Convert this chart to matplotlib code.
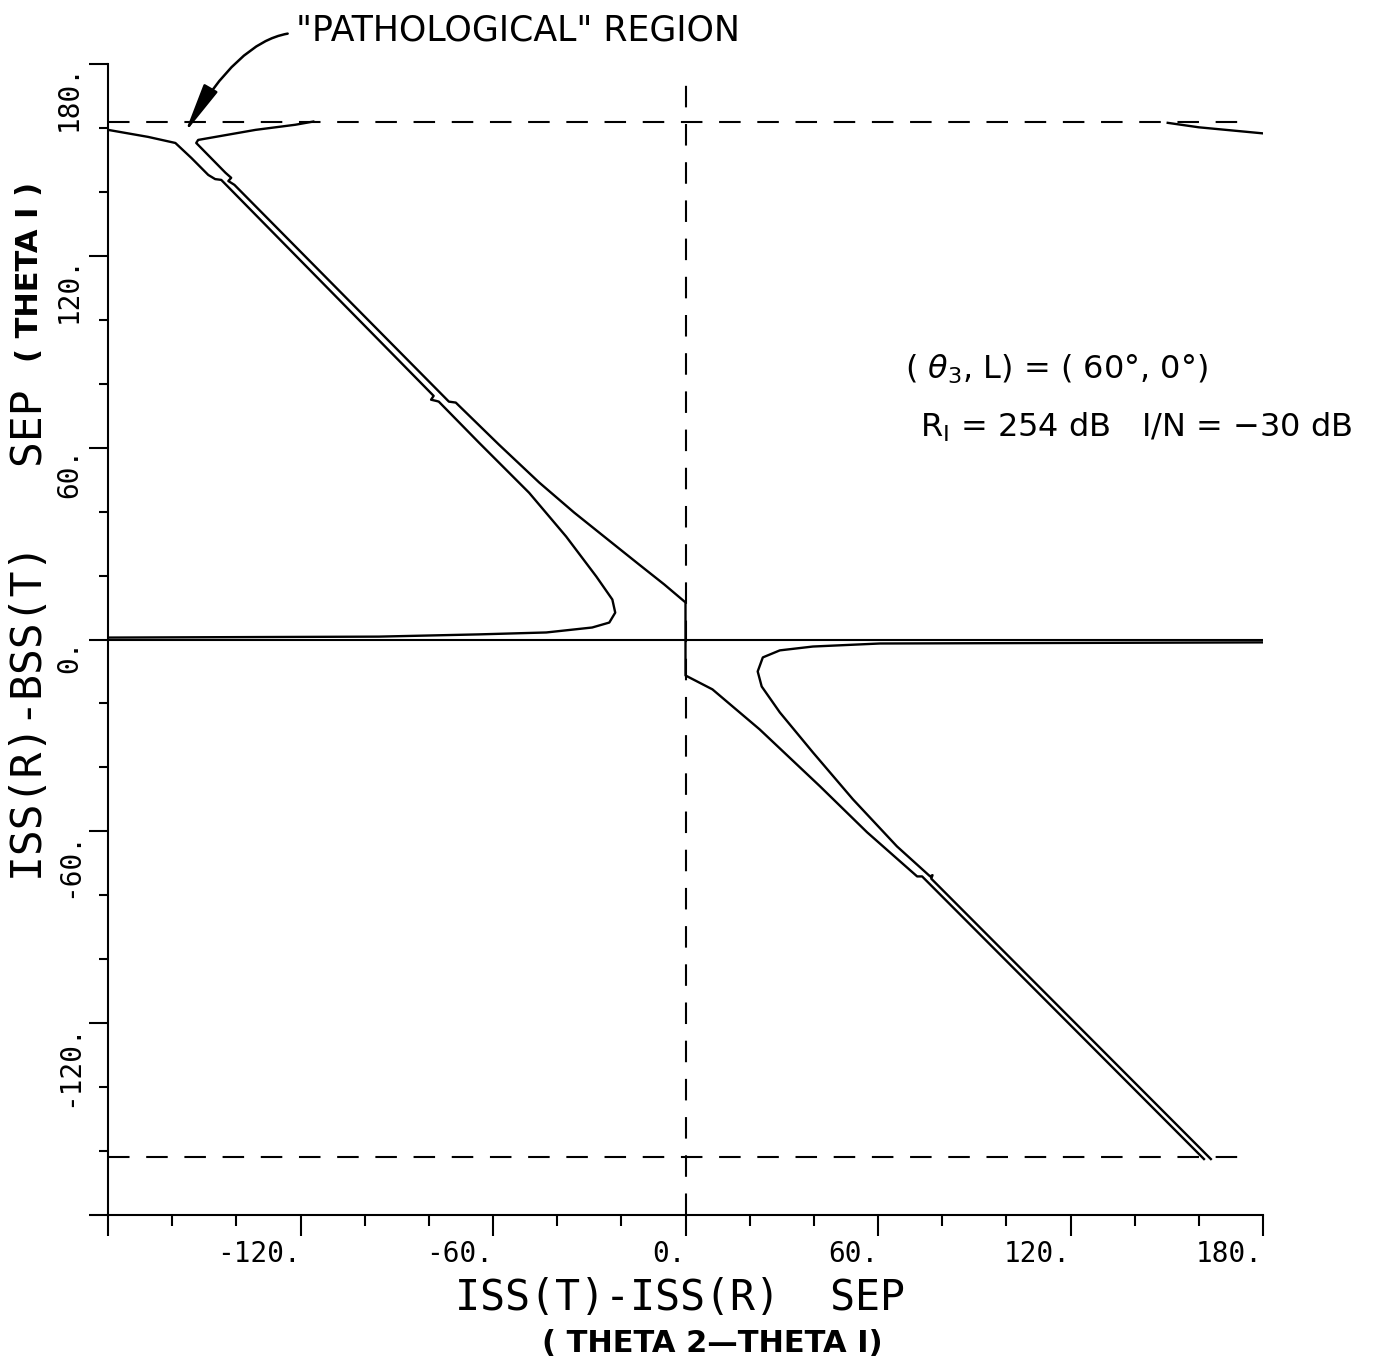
import matplotlib
matplotlib.use('Agg')
import matplotlib.pyplot as plt
from matplotlib.ticker import MultipleLocator

plt.rcParams['lines.scale_dashes'] = False

# upper-left loop: lower-left strand, ends running along the zero line
line1_x = [-180, -167.5, -159, -154, -148.75, -146.6, -144.7, -78.5, -79.3, -77.6, -76.9,
           -64.4, -48.75, -37.2, -27.8, -22.8, -21.9, -23.75, -29.1, -43.4, -64.4, -95.6, -180]
line1_y = [159.4, 157.2, 155.3, 150.6, 145.3, 144.0, 143.75, 76.2, 75.0, 74.6, 74.4,
           61.6, 45.9, 32.2, 19.7, 12.5, 8.4, 5.3, 3.75, 2.2, 1.6, 0.9, 0.6]

# middle strand: from the pathological tip, through the jump at 0, down to the bottom
line2_x = [-116, -121.6, -134, -151.9, -152.5, -143.4, -141.6, -142.5, -140.6, -73.75, -71.6,
           -58.1, -45.6, -34.7, -23.75, -14.4, -6.6, 0, 0, 8.4, 23.1, 41.9, 56.6, 72.2, 73.75, 161.6]
line2_y = [162, 161, 159.4, 156.25, 155.3, 146, 144.4, 143.4, 142.2, 74.4, 74.1,
           60.9, 49.1, 39.7, 30.9, 23.4, 17.2, 11.6, -11.25, -15.6, -28.1, -45.9, -60.3, -74.1, -74.1, -162.5]

# lower-right loop
line3_x = [180, 60.6, 39.7, 29.4, 24.1, 22.5, 23.75, 29.4, 39.7, 52.2, 65.9, 76.25, 77.0, 76.6, 163.75]
line3_y = [-0.9, -1.25, -2.2, -3.4, -5.6, -10, -14.7, -22.8, -35.3, -50, -64.7, -74.1, -73.7, -74.8, -162.5]

# short piece at top right
line4_x = [150.3, 160, 180]
line4_y = [161.6, 160.2, 158.3]

limit_hi = 162
limit_lo = -162

x_ticks = [-180, -120, -60, 0, 60, 120, 180]
x_tick_labels = ['', '-120.', '-60.', '0.', '60.', '120.', '180.']
y_ticks = [-180, -120, -60, 0, 60, 120, 180]
y_tick_labels = ['', '-120.', '-60.', '0.', '60.', '120.', '180.']

fig = plt.figure(figsize=(13.77, 13.66), dpi=100)
ax = fig.add_axes([108 / 1377, 1 - 1215 / 1366, 1155 / 1377, 1151 / 1366])

lw = 1.7
ax.plot(line1_x, line1_y, color='black', lw=lw)
ax.plot(line2_x, line2_y, color='black', lw=lw)
ax.plot(line3_x, line3_y, color='black', lw=lw)
ax.plot(line4_x, line4_y, color='black', lw=lw)
ax.plot([-180, 180], [0, 0], color='black', lw=1.5)

dash = (0, (15.5, 12))
ax.plot([-180, 175], [limit_hi, limit_hi], color='black', lw=1.5, linestyle=dash)
ax.plot([-180, 175], [limit_lo, limit_lo], color='black', lw=1.5, linestyle=dash)
ax.plot([0, 0], [-180, 176.5], color='black', lw=1.5, linestyle=dash)

ax.set_xlim(-180, 180)
ax.set_ylim(-180, 180)
for s in ['top', 'right']:
    ax.spines[s].set_visible(False)
for s in ['left', 'bottom']:
    ax.spines[s].set_linewidth(1.5)

mono = 'DejaVu Sans Mono'
ax.set_xticks(x_ticks)
ax.set_xticklabels(x_tick_labels, family=mono, fontsize=20, ha='right')
ax.set_yticks(y_ticks)
ax.set_yticklabels(y_tick_labels, family=mono, fontsize=20, rotation=90, va='top')
ax.xaxis.set_minor_locator(MultipleLocator(20))
ax.yaxis.set_minor_locator(MultipleLocator(20))
ax.tick_params(axis='x', which='major', length=15, width=1.5, pad=3)
ax.tick_params(axis='x', which='minor', length=8, width=1.5)
ax.tick_params(axis='y', which='major', length=14, width=1.5, pad=4)
ax.tick_params(axis='y', which='minor', length=6.5, width=1.5)

# axis titles
fig.text(680 / 1377, 1 - 1298 / 1366, 'ISS(T)-ISS(R)  SEP', family=mono, fontsize=30,
         ha='center', va='center')
fig.text(712 / 1377, 1 - 1343 / 1366, '( THETA 2\u2014THETA I)', fontsize=22,
         fontweight='bold', ha='center', va='center')
fig.text(30 / 1377, 1 - 635 / 1366, 'ISS(R)-BSS(T)   SEP', family=mono, fontsize=31,
         rotation=90, ha='center', va='center')
fig.text(30 / 1377, 1 - 272 / 1366, '( THETA I )', fontsize=22, fontweight='bold',
         rotation=90, ha='center', va='center')

# parameter notes
ax.text(68.4, 84.4, r'( $\theta_3$, L) = ( 60°, 0°)', fontsize=23, ha='left', va='center')
ax.text(73.1, 66.25, r'R$_\mathregular{I}$ = 254 dB   I/N = $-$30 dB', fontsize=23,
        ha='left', va='center')

ax.text(-121.25, 190.6, '"PATHOLOGICAL" REGION', fontsize=25, ha='left', va='center',
        clip_on=False)
ax.annotate('', xy=(-156, 158.5), xytext=(-124, 189.5),
            arrowprops=dict(arrowstyle='-|>,head_length=1.4,head_width=0.22',
                            connectionstyle='angle3,angleA=10,angleB=60', lw=1.8,
                            color='black', mutation_scale=22, shrinkA=0, shrinkB=0),
            annotation_clip=False)

fig.savefig('out.png', dpi=100, facecolor='white')
